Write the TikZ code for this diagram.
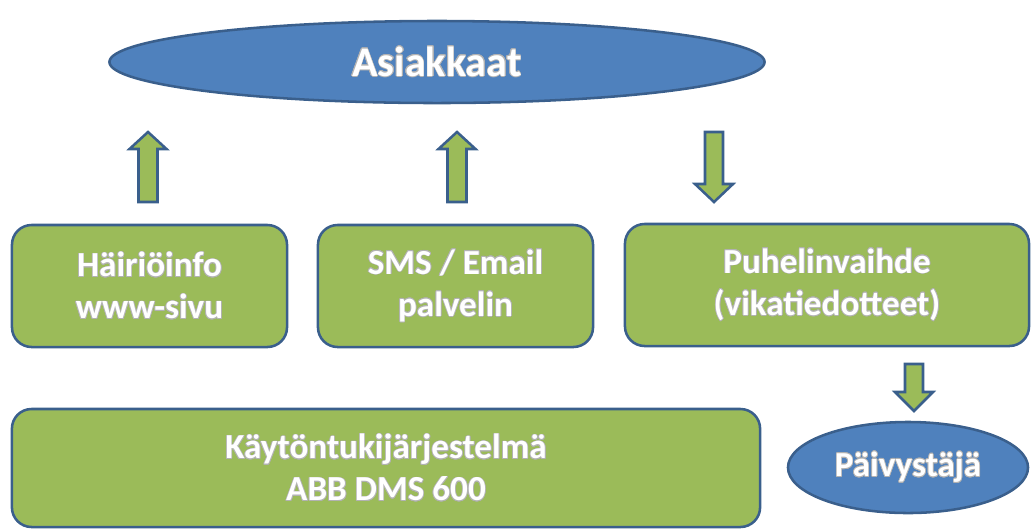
\documentclass[tikz,border=0pt]{standalone}
\usepackage{fontspec}
\setmainfont{Carlito}
\usepackage{contour}
\usetikzlibrary{shapes.geometric}

\definecolor{boxgreen}{HTML}{9BBB59}
\definecolor{ovalblue}{HTML}{4F81BD}
\definecolor{rimblue}{HTML}{3A5F8C}
\contourlength{0.5pt}
\newcommand{\lbl}[1]{\contour{black!30}{#1}}

\begin{document}
\begin{tikzpicture}[x=0.025cm, y=-0.025cm,
    oval/.style={shape=ellipse, draw=rimblue, fill=ovalblue, line width=1.8pt, inner sep=0pt, text=white, font=\bfseries\fontsize{30}{34}\selectfont},
    unit/.style={shape=rectangle, rounded corners=14pt, draw=rimblue, fill=boxgreen, line width=1.8pt, align=center, text=white, font=\bfseries\fontsize{25}{30}\selectfont},
    blockarrow/.style={draw=rimblue, fill=boxgreen, line width=1.8pt, line join=miter}]

    \useasboundingbox (0,0) rectangle (1031,529);

    \node[oval, minimum width=16.375cm, minimum height=2.05cm] (asiakkaat) at (437,62) {\lbl{Asiakkaat}};

    \node[unit, minimum width=6.875cm, minimum height=3.05cm] (info) at (149.5,286) {\lbl{Häiriöinfo}\\\lbl{www-sivu}};
    \node[unit, minimum width=6.875cm, minimum height=3.05cm] (sms) at (455.5,286) {\lbl{SMS / Email}\\\lbl{palvelin}};
    \node[unit, minimum width=10.1cm, minimum height=3.05cm] (vaihde) at (827,285) {\lbl{Puhelinvaihde}\\\lbl{(vikatiedotteet)}};

    \node[unit, minimum width=18.7cm, minimum height=2.95cm] (dms) at (386,468) {\lbl{Käytöntukijärjestelmä}\\\lbl{ABB DMS 600}};
    \node[oval, minimum width=6cm, minimum height=2.275cm, font=\bfseries\fontsize{25}{30}\selectfont] (paivystaja) at (908,467.5) {\lbl{Päivystäjä}};

    \foreach \ax in {148,457}
        \draw[blockarrow] (\ax,202) -- ++(-9.5,0) -- ++(0,-53) -- ++(-9,0) -- (\ax,132) -- ++(18.5,17) -- ++(-9,0) -- ++(0,53) -- cycle;

    \foreach \ax/\ya/\yb/\yc in {714/132/184/202, 914/364/392/411}
        \draw[blockarrow] (\ax,\ya) -- ++(9,0) -- (\ax+9,\yb) -- ++(10,0) -- (\ax,\yc) -- (\ax-19,\yb) -- ++(10,0) -- (\ax-9,\ya) -- cycle;

\end{tikzpicture}
\end{document}
